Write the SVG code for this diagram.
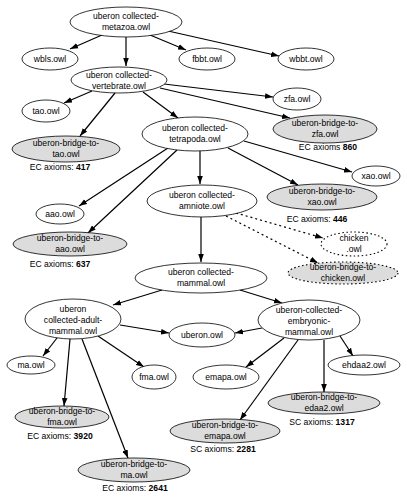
<svg xmlns="http://www.w3.org/2000/svg" width="407" height="500" viewBox="0 0 407 500">
<style>
text{font-family:"Liberation Sans",Arial,sans-serif;font-size:8.6px;fill:#000;text-anchor:middle}
.n{fill:#fff;stroke:#000;stroke-width:0.8}
.g{fill:#dcdcdc;stroke:#000;stroke-width:0.8}
.d{stroke-dasharray:1.5,2.5;stroke-width:1.1}
.e{stroke:#000;stroke-width:1.2;fill:none;marker-end:url(#ah)}
.dash{stroke-dasharray:2,3}
.b{font-weight:bold}
</style>
<defs>
<marker id="ah" viewBox="0 0 10 7" refX="10" refY="3.5" markerWidth="8" markerHeight="6" markerUnits="userSpaceOnUse" orient="auto">
<path d="M0,0 L10,3.5 L0,7 z" fill="#000"/>
</marker>
</defs>
<rect width="407" height="500" fill="#fff"/>
<g id="connectors">
<path class="e" d="M102,35 L70,49"/>
<path class="e" d="M126,37 L126,66"/>
<path class="e" d="M150,35 L186,50"/>
<path class="e" d="M168,31 L279,56"/>
<path class="e" d="M164,84 L273,97"/>
<path class="e" d="M92,91 L64,103"/>
<path class="e" d="M160,88 L290,118"/>
<path class="e" d="M143,92 L178,118"/>
<path class="e" d="M115,93 L80,136"/>
<path class="e" d="M244,141 L352,172"/>
<path class="e" d="M228,148 L298,185"/>
<path class="e" d="M200,151 L200,184"/>
<path class="e" d="M168,148 L79,206"/>
<path class="e" d="M177,150 L88,233"/>
<path class="e dash" d="M236,213 L323,238"/>
<path class="e dash" d="M226,216 L318,263"/>
<path class="e" d="M201,217 L201,262"/>
<path class="e" d="M162,290 L113,305"/>
<path class="e" d="M240,290 L282,303"/>
<path class="e" d="M120,325 L169,333"/>
<path class="e" d="M262,328 L235,333"/>
<path class="e" d="M57,338 L43,356"/>
<path class="e" d="M70,339 L64,406"/>
<path class="e" d="M82,339 L128,458"/>
<path class="e" d="M98,336 L144,367"/>
<path class="e" d="M284,338 L246,367"/>
<path class="e" d="M298,340 L240,420"/>
<path class="e" d="M324,340 L324,392"/>
<path class="e" d="M340,336 L353,356"/>
</g>
<g id="metazoa"><ellipse class="n" cx="126" cy="22" rx="56" ry="15"/><text x="126" y="19">uberon collected-</text><text x="126" y="30">metazoa.owl</text></g>
<g id="wbls"><ellipse class="n" cx="50" cy="59" rx="28" ry="11"/><text x="50" y="62">wbls.owl</text></g>
<g id="fbbt"><ellipse class="n" cx="207" cy="59" rx="28" ry="11"/><text x="207" y="62">fbbt.owl</text></g>
<g id="wbbt"><ellipse class="n" cx="306" cy="59" rx="28" ry="11"/><text x="306" y="62">wbbt.owl</text></g>
<g id="vertebrate"><ellipse class="n" cx="119" cy="80" rx="48" ry="13"/><text x="119" y="78">uberon collected-</text><text x="119" y="89">vertebrate.owl</text></g>
<g id="zfa"><ellipse class="n" cx="297" cy="99" rx="24" ry="11"/><text x="297" y="102">zfa.owl</text></g>
<g id="tao"><ellipse class="n" cx="46" cy="111" rx="24" ry="11"/><text x="46" y="114">tao.owl</text></g>
<g id="tetrapoda"><ellipse class="n" cx="195" cy="134" rx="53" ry="17"/><text x="195" y="131">uberon collected-</text><text x="195" y="142">tetrapoda.owl</text></g>
<g id="bridge-zfa"><ellipse class="g" cx="325" cy="129" rx="52" ry="14"/><text x="325" y="126">uberon-bridge-to-</text><text x="325" y="137">zfa.owl</text><text x="328" y="150">EC axioms <tspan class="b">860</tspan></text></g>
<g id="bridge-tao"><ellipse class="g" cx="66" cy="149" rx="54" ry="13"/><text x="66" y="146">uberon-bridge-to-</text><text x="66" y="157">tao.owl</text><text x="60" y="170">EC axioms: <tspan class="b">417</tspan></text></g>
<g id="xao"><ellipse class="n" cx="376" cy="176" rx="24" ry="10"/><text x="376" y="179">xao.owl</text></g>
<g id="amniote"><ellipse class="n" cx="202" cy="201" rx="55" ry="16"/><text x="202" y="198">uberon collected-</text><text x="202" y="209">amniote.owl</text></g>
<g id="bridge-xao"><ellipse class="g" cx="322" cy="197" rx="55" ry="13"/><text x="322" y="194">uberon-bridge-to-</text><text x="322" y="205">xao.owl</text><text x="317" y="222">EC axioms: <tspan class="b">446</tspan></text></g>
<g id="aao"><ellipse class="n" cx="60" cy="214" rx="24" ry="10"/><text x="60" y="217">aao.owl</text></g>
<g id="chicken"><ellipse class="n d" cx="354" cy="244" rx="33" ry="12"/><text x="354" y="241">chicken</text><text x="354" y="252">.owl</text></g>
<g id="bridge-aao"><ellipse class="g" cx="70" cy="244" rx="57" ry="12"/><text x="70" y="241">uberon-bridge-to-</text><text x="70" y="252">aao.owl</text><text x="60" y="267">EC axioms: <tspan class="b">637</tspan></text></g>
<g id="bridge-chicken"><ellipse class="g d" cx="343" cy="273" rx="55" ry="11"/><text x="343" y="270">uberon-bridge-to-</text><text x="343" y="281">chicken.owl</text></g>
<g id="mammal"><ellipse class="n" cx="201" cy="278" rx="66" ry="15"/><text x="201" y="275">uberon collected-</text><text x="201" y="286">mammal.owl</text></g>
<g id="adult-mammal"><ellipse class="n" cx="73" cy="319" rx="48" ry="20"/><text x="73" y="311.5">uberon</text><text x="73" y="322.5">collected-adult-</text><text x="73" y="333.5">mammal.owl</text></g>
<g id="embryonic-mammal"><ellipse class="n" cx="309" cy="320" rx="51" ry="20"/><text x="309" y="312.5">uberon-collected-</text><text x="309" y="323.5">embryonic-</text><text x="309" y="334.5">mammal.owl</text></g>
<g id="uberon"><ellipse class="n" cx="202" cy="335" rx="33" ry="12"/><text x="202" y="338">uberon.owl</text></g>
<g id="ma"><ellipse class="n" cx="31" cy="365" rx="24" ry="9"/><text x="31" y="368">ma.owl</text></g>
<g id="fma"><ellipse class="n" cx="154" cy="377" rx="22" ry="12"/><text x="154" y="380">fma.owl</text></g>
<g id="emapa"><ellipse class="n" cx="226" cy="377" rx="33" ry="12"/><text x="226" y="380">emapa.owl</text></g>
<g id="ehdaa2"><ellipse class="n" cx="364" cy="365" rx="36" ry="10"/><text x="364" y="368">ehdaa2.owl</text></g>
<g id="bridge-fma"><ellipse class="g" cx="62" cy="417" rx="47" ry="11"/><text x="62" y="414">uberon-bridge-to-</text><text x="62" y="425">fma.owl</text><text x="60" y="439">EC axioms: <tspan class="b">3920</tspan></text></g>
<g id="bridge-edaa2"><ellipse class="g" cx="324" cy="403" rx="56" ry="11"/><text x="324" y="400">uberon-bridge-to-</text><text x="324" y="411">edaa2.owl</text><text x="322" y="425">SC axioms: <tspan class="b">1317</tspan></text></g>
<g id="bridge-emapa"><ellipse class="g" cx="225" cy="431" rx="55" ry="12"/><text x="225" y="428">uberon-bridge-to-</text><text x="225" y="439">emapa.owl</text><text x="223" y="452">SC axioms: <tspan class="b">2281</tspan></text></g>
<g id="bridge-ma"><ellipse class="g" cx="134" cy="470" rx="56" ry="12"/><text x="134" y="467">uberon-bridge-to-</text><text x="134" y="478">ma.owl</text><text x="135" y="491">EC axioms: <tspan class="b">2641</tspan></text></g>
</svg>
